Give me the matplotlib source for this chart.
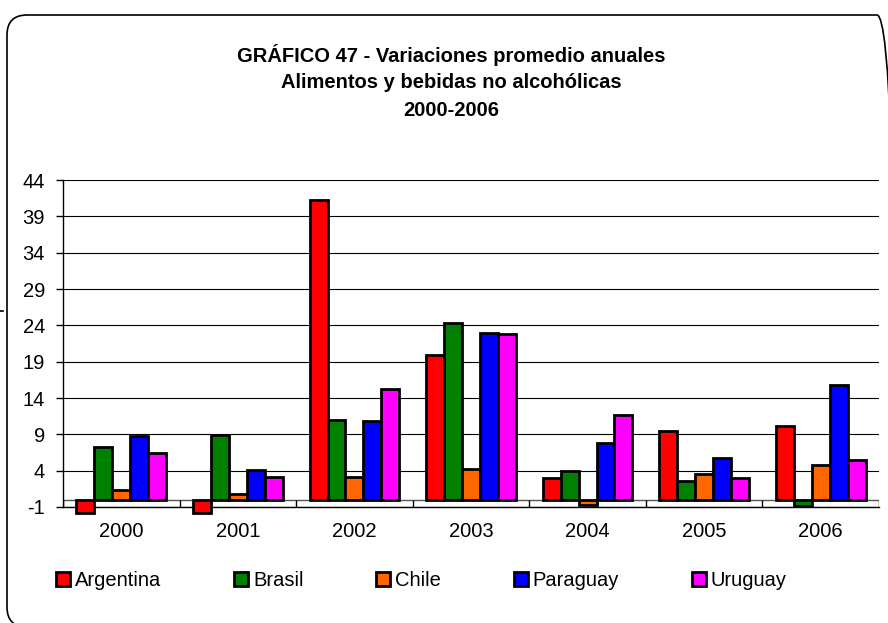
import numpy as np
import matplotlib
matplotlib.use("Agg")
import matplotlib.pyplot as plt
from matplotlib.patches import FancyBboxPatch, Patch
from matplotlib.transforms import IdentityTransform
from matplotlib.lines import Line2D

plt.rcParams["font.family"] = ["Liberation Sans", "DejaVu Sans"]
plt.rcParams["axes.unicode_minus"] = False

# Datos
anios = ["2000", "2001", "2002", "2003", "2004", "2005", "2006"]
argentina = [-1.8, -1.8, 41.3, 19.9, 3.0, 9.5, 10.2]
brasil = [7.3, 8.9, 11.0, 24.3, 3.9, 2.6, -0.8]
chile = [1.3, 0.8, 3.1, 4.2, -0.7, 3.5, 4.8]
paraguay = [8.8, 4.1, 10.9, 23.0, 7.8, 5.8, 15.8]
uruguay = [6.4, 3.1, 15.3, 22.8, 11.7, 3.0, 5.5]

series = [
    ("Argentina", argentina, "#ff0000"),
    ("Brasil", brasil, "#008000"),
    ("Chile", chile, "#ff6600"),
    ("Paraguay", paraguay, "#0000ff"),
    ("Uruguay", uruguay, "#ff00ff"),
]
yticks = list(range(-1, 45, 5))

W, H = 888, 623
fig = plt.figure(figsize=(W / 100, H / 100), dpi=100)

# Marco redondeado del gráfico
marco = FancyBboxPatch((7, -4), 890, H - 15 + 4,
                       boxstyle="round,pad=0,rounding_size=20",
                       transform=IdentityTransform(), facecolor="none",
                       edgecolor="black", linewidth=1.2)
fig.patches.append(marco)
fig.lines.append(Line2D([0, 3], [H - 311, H - 311], transform=IdentityTransform(),
                        color="black", linewidth=1.2))

# Título
titulos = ["GRÁFICO 47 - Variaciones promedio anuales",
           "Alimentos y bebidas no alcohólicas",
           "2000-2006"]
for i, t in enumerate(titulos):
    fig.text(451 / W, 1 - (55 + 28 * i) / H, t, ha="center", va="center",
             fontsize=14.5, fontweight="bold")

ax = fig.add_axes([63 / W, 1 - 507 / H, (879 - 63) / W, (507 - 180) / H])
x = np.arange(len(anios))
ancho = 0.154
for k, (nombre, vals, color) in enumerate(series):
    ax.bar(x + (k - 2) * ancho, vals, width=ancho, color=color,
           edgecolor="black", linewidth=2, zorder=3, clip_on=False)

ax.set_xlim(-0.5, len(anios) - 0.5)
ax.set_ylim(-1, 44)
ax.set_yticks(yticks)
ax.set_xticks(x)
ax.set_xticklabels(anios)
ax.tick_params(axis="x", length=0, pad=11, labelsize=14.5)
ax.tick_params(axis="y", length=5, width=1, pad=8, labelsize=14.5, direction="out")
for s in ["top", "right"]:
    ax.spines[s].set_visible(False)
ax.spines["left"].set_linewidth(1)
ax.spines["bottom"].set_linewidth(1)
ax.grid(axis="y", color="black", linewidth=0.8, zorder=0)
ax.axhline(0, color="#555555", linewidth=1, zorder=1)
ax.vlines(np.arange(len(anios) + 1) - 0.5, -1, 0, color="black", linewidth=1, zorder=1)

handles = [Patch(facecolor=c, edgecolor="black", linewidth=2, label=n)
           for n, _, c in series]
fig.legend(handles=handles, loc="center left", bbox_to_anchor=(56 / W, 1 - 580.5 / H),
           ncol=5, frameon=False, fontsize=14.5, handlelength=0.7, handleheight=0.7,
           handletextpad=0.25, columnspacing=3.6, borderpad=0, borderaxespad=0)

fig.savefig("out.png", dpi=100)
